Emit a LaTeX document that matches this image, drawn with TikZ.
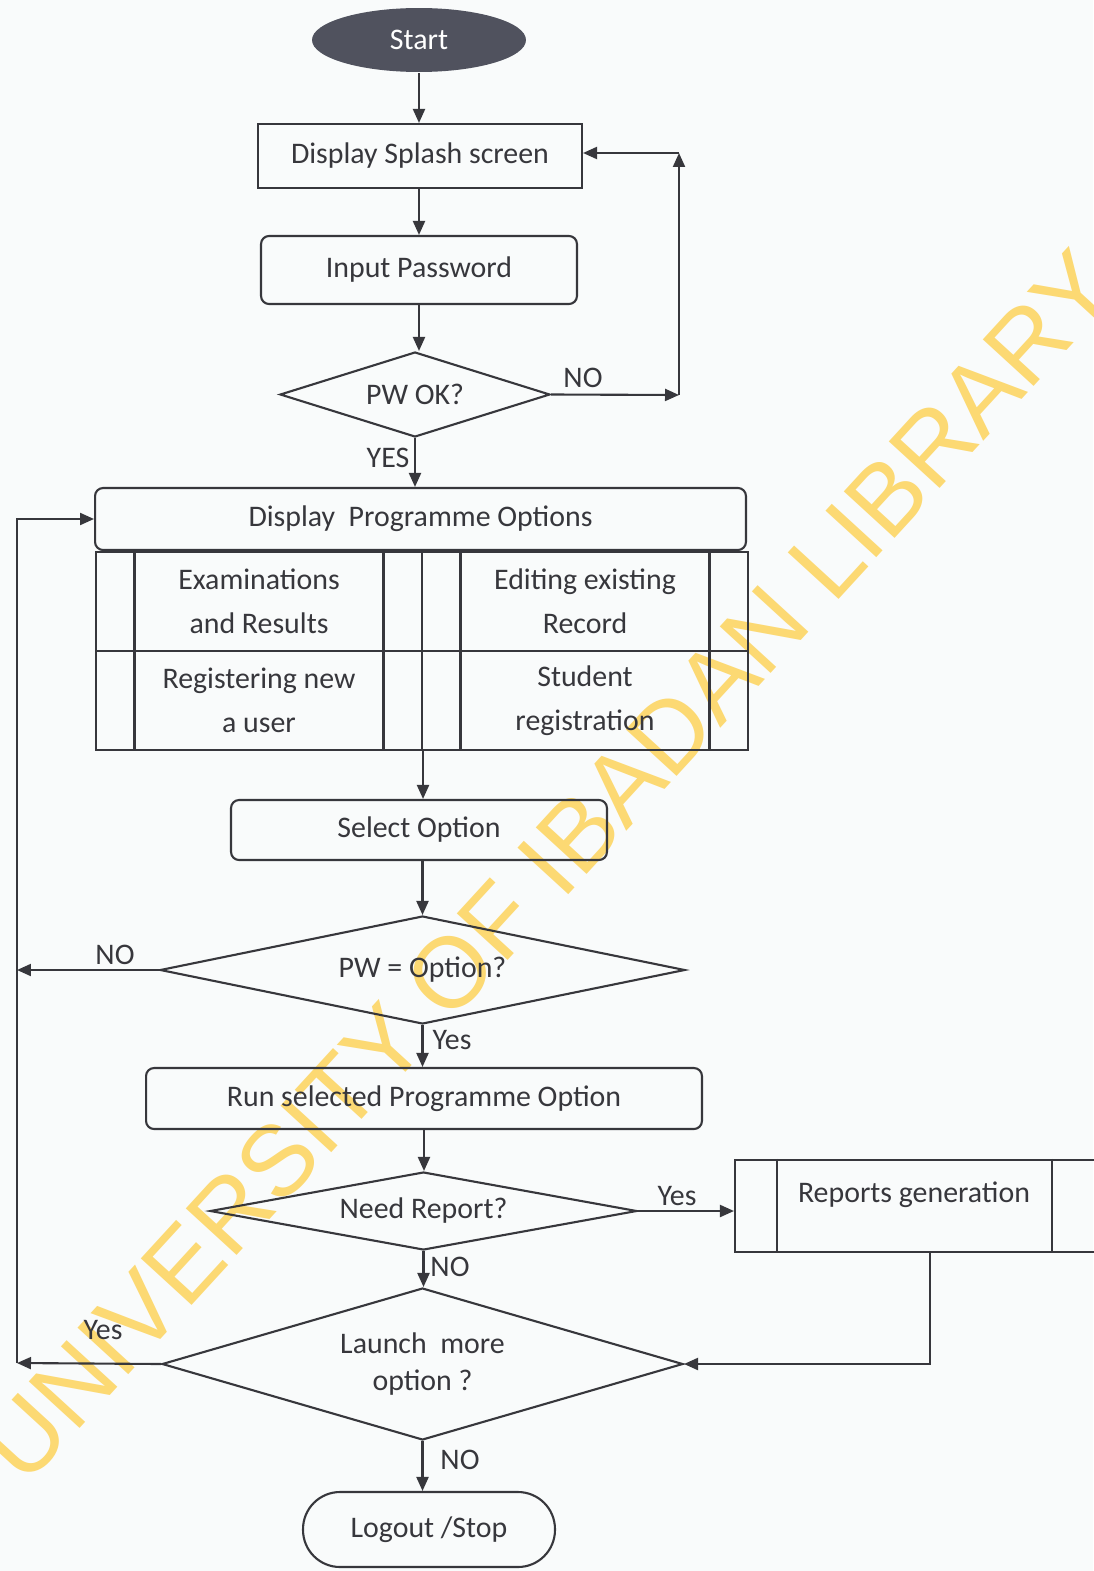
\documentclass[tikz,border=0pt]{standalone}
\usepackage{fontspec}
\setmainfont{Carlito}
\newfontfamily\wmfont{Liberation Sans}
\usetikzlibrary{shapes.geometric,arrows.meta}

\definecolor{ink}{RGB}{55,55,60}
\definecolor{paper}{RGB}{249,251,251}
\definecolor{wmyellow}{RGB}{252,217,115}
\definecolor{startfill}{RGB}{80,82,94}

\begin{document}
\begin{tikzpicture}[x=0.02cm,y=-0.02cm,line width=1.2pt,color=ink,
  every node/.style={font=\fontsize{17}{25}\selectfont,inner sep=0pt},
  proc/.style={draw,rectangle},
  rproc/.style={draw,rectangle,rounded corners=0.16cm},
  dec/.style={draw,diamond},
  predef/.style={draw,rectangle,align=center,minimum width=6.52cm,minimum height=1.98cm},
  arr/.style={-{Triangle[length=0.28cm,width=0.24cm]}}]
  \useasboundingbox (0,0) rectangle (1093,1571);
  \fill[paper] (0,0) rectangle (1093,1571);

  % watermark behind the chart
  \node[wmyellow,rotate=47.5,font=\wmfont\fontsize{57}{57}\selectfont] (wm) at (548,866) {UNIVERSITY OF IBADAN LIBRARY};

  \node[ellipse,fill=startfill,text=white,minimum width=4.28cm,minimum height=1.28cm] (start) at (419,40) {Start};
  \node[proc,minimum width=6.48cm,minimum height=1.28cm] (splash) at (420,156) {Display Splash screen};
  \node[rproc,minimum width=6.32cm,minimum height=1.36cm] (pass) at (419,270) {Input Password};
  \node[dec,aspect=3.18,minimum width=5.4cm,minimum height=1.7cm] (pwok) at (415,394.5) {PW OK?};
  \node[rproc,minimum width=13.02cm,minimum height=1.24cm] (opts) at (420.5,519) {Display\ \ Programme Options};

  % option cells
  \node[predef] (exam) at (259,601.5) {Examinations\\and Results};
  \node[predef] (edit) at (585,601.5) {Editing existing\\Record};
  \node[predef] (reg)  at (259,700.5) {Registering new\\a user};
  \node[predef] (stud) at (585,700.5) {Student\\registration};
  \foreach \c in {exam,edit,reg,stud}
    \draw (\c.north west) ++(39.5,0) -- ++(0,99)
          (\c.north east) ++(-39.5,0) -- ++(0,99);

  \node[rproc,minimum width=7.52cm,minimum height=1.2cm] (sel) at (419,830) {Select Option};
  \node[dec,aspect=4.86,minimum width=10.5cm,minimum height=2.16cm] (optq) at (422.5,970) {PW = Option?};
  \node[rproc,minimum width=11.12cm,minimum height=1.22cm] (run) at (424,1098.5) {Run selected Programme Option};
  \node[dec,aspect=5.47,minimum width=8.54cm,minimum height=1.56cm] (need) at (423.5,1211) {Need Report?};
  \node[proc,minimum width=7.26cm,minimum height=1.84cm] (rep) at (916.5,1206) {};
  \draw (rep.north west) ++(43,0) -- ++(0,92)
        (rep.north east) ++(-47,0) -- ++(0,92);
  \node (reptxt) at (914,1195) {Reports generation};
  \node[dec,aspect=3.43,align=center,minimum width=10.42cm,minimum height=3.04cm,font=\fontsize{17}{21}\selectfont] (launch) at (422.5,1364) {Launch\ \ more\\option ?};
  \node[draw,rounded corners=0.74cm,minimum width=5.04cm,minimum height=1.5cm] (stop) at (429,1529.5) {Logout /Stop};

  % connectors
  \draw[arr] (start.south) -- (start.south |- splash.north);
  \draw[arr] (pass.north |- splash.south) -- (pass.north);
  \draw[arr] (pass.south) -- (pass.south |- pwok.north);

  \coordinate (nor) at (679,395);
  \coordinate (nou) at (679,153);
  \draw[arr] (pwok.east) -- (nor);
  \draw[arr] (nor) -- (nou);
  \draw[arr] (nou) -- (splash.east |- nou);
  \node (lno1) at (583,378) {NO};

  \draw[arr] (pwok.south) -- (pwok.south |- opts.north);
  \node (lyes1) at (388,458) {YES};

  \draw[arr] (reg.south east) -- (reg.south east |- sel.north);
  \draw[arr] (optq.north |- sel.south) -- (optq.north);

  \coordinate (lb) at (17,1363);
  \draw[arr] (optq.west) -- (optq.west -| lb);
  \node (lno2) at (115,955) {NO};
  \draw[arr] (launch.west) -- (lb);
  \draw[arr] (lb) |- (opts.west);
  \node (lyes2) at (103,1330) {Yes};

  \draw[arr] (optq.south) -- (optq.south |- run.north);
  \node (lyes3) at (452,1040) {Yes};
  \draw[arr] (run.south) -- (run.south |- need.north);
  \draw[arr] (need.east) -- (need.east -| rep.west);
  \node (lyes4) at (677,1196) {Yes};
  \draw[arr] (need.south) -- (need.south |- launch.north);
  \node (lno3) at (450,1267) {NO};
  \draw[arr] (rep.south) ++(13.5,0) |- (launch.east);
  \draw[arr] (launch.south) -- (launch.south |- stop.north);
  \node (lno4) at (460,1460) {NO};
\end{tikzpicture}
\end{document}
